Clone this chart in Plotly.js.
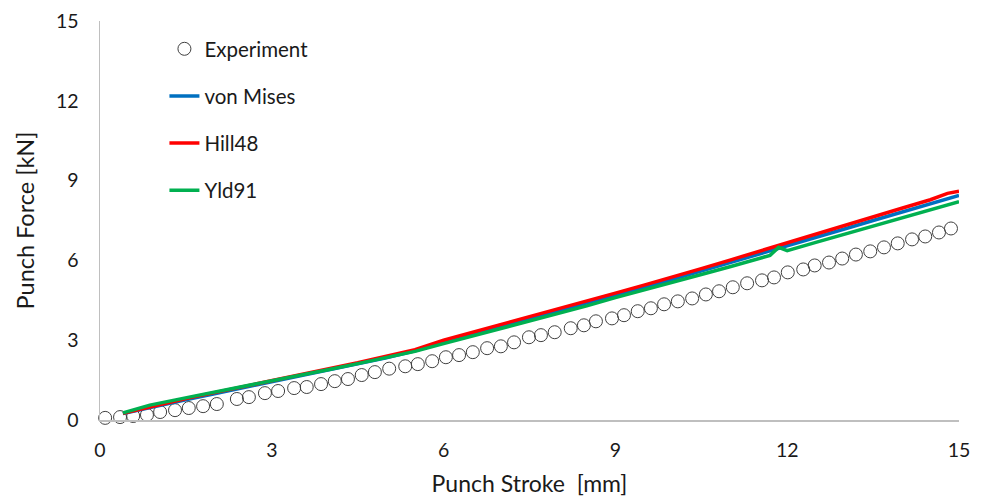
<!DOCTYPE html>
<html>
<head>
<meta charset="utf-8">
<script src="https://cdn.plot.ly/plotly-3.0.1.min.js"></script>
<style>html,body{margin:0;padding:0;background:#fff;}</style>
</head>
<body>
<div id="chart" style="width:986px;height:497px;"></div>
<script>
// Experiment (open circles)
const expStroke = [0.09,0.35,0.58,0.82,1.05,1.31,1.55,1.80,2.04,2.39,2.60,2.88,3.11,3.39,3.61,3.86,4.10,4.33,4.57,4.80,5.05,
  5.33,5.55,5.80,6.04,6.27,6.51,6.76,7.00,7.23,7.49,7.70,7.94,8.22,8.45,8.66,8.94,9.15,9.39,9.62,9.85,10.09,
  10.34,10.58,10.81,11.05,11.30,11.56,11.77,12.01,12.28,12.48,12.73,12.96,13.20,13.45,13.69,13.93,14.18,14.41,14.65,14.86];
const expForce = [0.08,0.11,0.15,0.19,0.30,0.37,0.45,0.52,0.60,0.79,0.86,1.01,1.09,1.20,1.24,1.35,1.46,1.54,1.69,1.80,1.93,
  2.02,2.10,2.21,2.36,2.44,2.55,2.70,2.77,2.92,3.11,3.19,3.30,3.45,3.56,3.71,3.82,3.94,4.09,4.20,4.35,4.46,
  4.57,4.72,4.84,4.99,5.14,5.25,5.36,5.55,5.66,5.81,5.92,6.07,6.22,6.34,6.49,6.64,6.79,6.90,7.05,7.20];

// von Mises
const vmStroke = [0.4,0.8,1.2,1.6,2.0,2.5,3.0,3.5,4.0,4.5,5.0,5.5,6.0,6.5,7.0,7.5,8.0,8.5,9.0,9.5,10.0,10.5,11.0,11.5,12.0,12.5,13.0,13.5,14.0,14.5,15.0];
const vmForce  = [0.24,0.44,0.63,0.81,0.99,1.21,1.43,1.65,1.88,2.10,2.34,2.60,2.93,3.22,3.51,3.80,4.10,4.40,4.69,4.99,5.29,5.60,5.92,6.24,6.56,6.87,7.18,7.50,7.81,8.13,8.44];

// Hill48
const hillStroke = [0.4,0.8,1.2,1.6,2.0,2.5,3.0,3.5,4.0,4.5,5.0,5.3,5.5,6.0,6.5,7.0,7.5,8.0,8.5,9.0,9.5,10.0,10.5,11.0,11.5,12.0,12.5,13.0,13.5,14.0,14.5,14.8,15.0];
const hillForce  = [0.25,0.46,0.66,0.85,1.03,1.25,1.47,1.69,1.92,2.15,2.40,2.56,2.64,3.00,3.29,3.59,3.88,4.18,4.47,4.77,5.07,5.37,5.69,6.01,6.34,6.66,6.98,7.30,7.63,7.96,8.28,8.52,8.60];

// Yld91
const yldStroke = [0.4,0.87,1.6,2.13,2.5,3.0,3.5,4.0,4.5,5.0,5.5,6.0,6.5,7.0,7.5,8.0,8.5,9.0,9.5,10.0,10.5,11.0,11.5,11.7,11.85,12.0,12.5,13.0,13.5,14.0,14.5,15.0];
const yldForce  = [0.27,0.56,0.88,1.10,1.26,1.47,1.69,1.90,2.12,2.34,2.58,2.87,3.15,3.44,3.72,4.00,4.29,4.60,4.90,5.19,5.47,5.76,6.06,6.19,6.49,6.37,6.68,6.99,7.30,7.60,7.91,8.21];

const xTicks = [0,3,6,9,12,15];
const yTicks = [0,3,6,9,12,15];

const FONT = 'Lato, "Open Sans", sans-serif';
const TXT = '#1a1a1a';

const traces = [
  {x: expStroke, y: expForce, name: 'Experiment', type: 'scatter', mode: 'markers', legendgroup: 'a',
   cliponaxis: false,
   marker: {symbol: 'circle-open', size: 13, color: '#404040', line: {width: 1, color: '#404040'}}},
  {x: vmStroke, y: vmForce, name: 'von Mises', type: 'scatter', mode: 'lines', legendgroup: 'b',
   line: {color: '#0070C0', width: 3.5}},
  {x: hillStroke, y: hillForce, name: 'Hill48', type: 'scatter', mode: 'lines', legendgroup: 'c',
   line: {color: '#FF0000', width: 3.5}},
  {x: yldStroke, y: yldForce, name: 'Yld91', type: 'scatter', mode: 'lines', legendgroup: 'd',
   line: {color: '#00B050', width: 3.5}}
];

const layout = {
  width: 986, height: 497,
  margin: {l: 100, r: 27, t: 21, b: 77},
  paper_bgcolor: '#fff', plot_bgcolor: '#fff',
  font: {family: FONT, size: 19.5, color: TXT},
  showlegend: true,
  legend: {x: 0.075, y: 0.98, xanchor: 'left', yanchor: 'top', bgcolor: 'rgba(0,0,0,0)',
           tracegroupgap: 17.5, font: {family: FONT, size: 20.5, color: TXT}, traceorder: 'grouped'},
  xaxis: {range: [0, 15], tickvals: xTicks, ticktext: xTicks.map(String), showgrid: false, zeroline: false,
          showline: true, linecolor: '#bfbfbf', linewidth: 1.5, ticks: '', ticklabelstandoff: 12,
          tickfont: {family: FONT, size: 19.5, color: TXT},
          title: {text: 'Punch Stroke \u00a0[mm]', font: {family: FONT, size: 23, color: TXT}, standoff: 16}},
  yaxis: {range: [0, 15], tickvals: yTicks, ticktext: yTicks.map(String), showgrid: false, zeroline: false,
          showline: true, linecolor: '#bfbfbf', linewidth: 1.5, ticks: '', ticklabelstandoff: 16,
          tickfont: {family: FONT, size: 19.5, color: TXT},
          title: {text: 'Punch Force [kN]', font: {family: FONT, size: 23.5, color: TXT}, standoff: 14}}
};

Plotly.newPlot('chart', traces, layout, {displayModeBar: false, staticPlot: true});
</script>
</body>
</html>
